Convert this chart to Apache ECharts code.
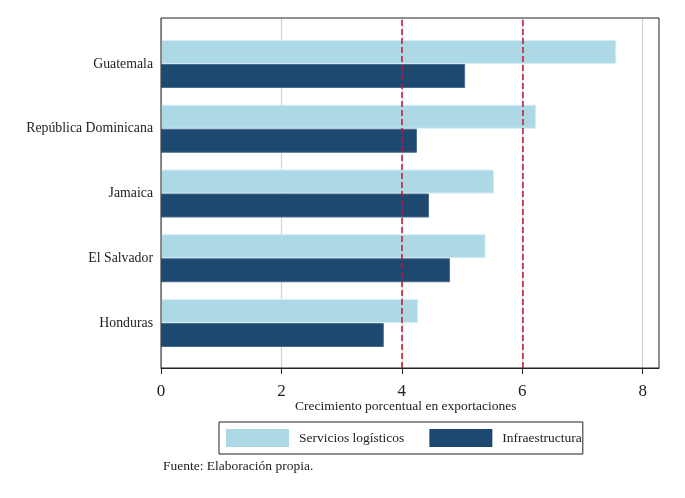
<!DOCTYPE html>
<html>
<head>
<meta charset="utf-8">
<script src="https://cdn.jsdelivr.net/npm/echarts@6/dist/echarts.min.js"></script>
<style>html,body{margin:0;padding:0;background:#fff;}#c{width:685px;height:498px;}</style>
</head>
<body>
<div id="c"></div>
<script>
const countries = ['Guatemala', 'República Dominicana', 'Jamaica', 'El Salvador', 'Honduras'];
const serviciosLogisticos = [7.56, 6.23, 5.53, 5.39, 4.27];
const infraestructura = [5.05, 4.25, 4.45, 4.80, 3.70];
const tickValues = [0, 2, 4, 6, 8];
const referenceLines = [4, 6];
const seriesNames = ['Servicios logísticos', 'Infraestructura'];
const xTitle = 'Crecimiento porcentual en exportaciones';
const sourceNote = 'Fuente: Elaboración propia.';

const FONT = '"Liberation Serif", "DejaVu Serif", serif';
const xMax = 8.27;

const chart = echarts.init(document.getElementById('c'), null, {renderer: 'canvas'});
chart.setOption({
  backgroundColor: '#fff',
  animation: false,
  grid: [
    {left: 161, right: 26, top: 18, bottom: 130, show: true, borderColor: '#222', borderWidth: 1, backgroundColor: 'transparent', z: 5},
    {left: 161, right: 26, top: 31.6, bottom: 142.6}
  ],
  xAxis: [
    {
      gridIndex: 0, type: 'value', min: 0, max: xMax,
      axisLine: {show: true, lineStyle: {color: '#222', width: 1}},
      axisTick: {show: true, length: 6, customValues: tickValues, lineStyle: {color: '#222'}},
      axisLabel: {show: true, customValues: tickValues, fontFamily: FONT, fontSize: 17, color: '#222', margin: 15},
      splitLine: {show: true, customValues: tickValues, lineStyle: {color: '#d4d4d4', width: 1.3}}
    },
    {gridIndex: 1, type: 'value', min: 0, max: xMax, show: false, splitLine: {show: false}}
  ],
  yAxis: [
    {gridIndex: 0, type: 'value', min: 0, max: 1, show: false, splitLine: {show: false}},
    {
      gridIndex: 1, type: 'category', inverse: true, data: countries,
      axisLine: {show: false}, axisTick: {show: false},
      axisLabel: {fontFamily: FONT, fontSize: 13.8, color: '#222', margin: 8},
      splitLine: {show: false}
    }
  ],
  legend: {
    left: 219, top: 422,
    orient: 'horizontal',
    data: seriesNames,
    icon: 'rect',
    itemWidth: 63, itemHeight: 18, itemGap: 25,
    padding: [7, 1, 7, 7],
    borderColor: '#222', borderWidth: 1,
    itemStyle: {borderWidth: 0},
    textStyle: {fontFamily: FONT, fontSize: 13.5, color: '#222', padding: [0, 0, 0, 5]},
    selectedMode: false
  },
  graphic: [
    {type: 'text', left: 295, top: 399, style: {text: xTitle, font: '13.5px ' + FONT, fill: '#222'}},
    {type: 'text', left: 163, top: 459, style: {text: sourceNote, font: '13.5px ' + FONT, fill: '#222'}}
  ],
  series: [
    {
      name: seriesNames[0], type: 'bar', xAxisIndex: 1, yAxisIndex: 1,
      data: serviciosLogisticos, barWidth: 24, barGap: '0%',
      itemStyle: {color: '#ADD8E6', borderColor: '#d6edf4', borderWidth: 1}
    },
    {
      name: seriesNames[1], type: 'bar', xAxisIndex: 1, yAxisIndex: 1,
      data: infraestructura, barWidth: 24, barGap: '0%',
      itemStyle: {color: '#1D4870', borderColor: '#4a6d90', borderWidth: 1}
    },
    {
      name: 'ref', type: 'scatter', xAxisIndex: 0, yAxisIndex: 0, data: [], silent: true,
      markLine: {
        silent: true, symbol: 'none', label: {show: false},
        lineStyle: {color: '#c8102e', type: [6, 3], width: 1.5},
        data: referenceLines.map(v => ({xAxis: v}))
      }
    }
  ]
});
</script>
</body>
</html>
